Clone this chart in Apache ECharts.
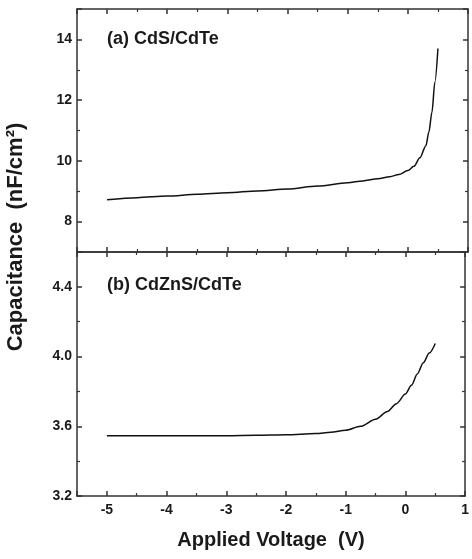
<!DOCTYPE html>
<html>
<head>
<meta charset="utf-8">
<script src="https://cdn.jsdelivr.net/npm/echarts@6/dist/echarts.min.js"></script>
<style>
  html, body { margin: 0; padding: 0; background: #fff; }
  #main { width: 472px; height: 559px; }
</style>
</head>
<body>
<div id="main"></div>
<script>
// (a) CdS/CdTe
const voltTop = [-5, -4.5, -4, -3.5, -3, -2.5, -2, -1.5, -1, -0.75, -0.5, -0.3, -0.15, 0, 0.1, 0.2, 0.3, 0.35, 0.4, 0.45, 0.5]
const capTop = [8.72, 8.79, 8.84, 8.90, 8.95, 9.01, 9.07, 9.17, 9.28, 9.34, 9.41, 9.48, 9.55, 9.68, 9.82, 10.1, 10.5, 10.95, 11.6, 12.6, 13.7]
// (b) CdZnS/CdTe
const voltBot = [-5, -4, -3, -2.5, -2, -1.5, -1.25, -1, -0.75, -0.5, -0.3, -0.15, 0, 0.1, 0.2, 0.3, 0.4, 0.5]
const capBot = [3.545, 3.545, 3.546, 3.548, 3.551, 3.558, 3.566, 3.577, 3.600, 3.640, 3.685, 3.730, 3.785, 3.835, 3.900, 3.965, 4.020, 4.075]

const panelLabels = ['(a) CdS/CdTe', '(b) CdZnS/CdTe']
const xName = 'Applied Voltage  (V)'
const yName = 'Capacitance  (nF/cm²)'

const font = '"Liberation Sans", Arial, sans-serif'
const lineCol = '#333'

const pairs = (xs, ys) => xs.map((x, i) => [x, ys[i]])

// 每个面板四条边都画刻度
const xAx = (grid, pos, showLabel) => ({
  gridIndex: grid,
  type: 'value',
  position: pos,
  min: -5.5,
  max: 1,
  axisLine: { show: true, onZero: false, lineStyle: { color: lineCol, width: 1.5 } },
  axisTick: { show: true, inside: true, length: 5, lineStyle: { color: lineCol, width: 1.5 } },
  minorTick: { show: true, splitNumber: 2, length: 3, lineStyle: { color: lineCol, width: 1.2 } },
  splitLine: { show: false },
  axisLabel: {
    show: showLabel,
    showMinLabel: false,
    margin: 7,
    color: '#1a1a1a',
    fontFamily: font,
    fontWeight: 'bold',
    fontSize: 14
  }
})

const yAx = (grid, pos, showLabel, extra) => Object.assign({
  gridIndex: grid,
  type: 'value',
  position: pos,
  axisLine: { show: true, onZero: false, lineStyle: { color: lineCol, width: 1.5 } },
  axisTick: { show: true, inside: true, length: 5, lineStyle: { color: lineCol, width: 1.5 } },
  minorTick: { show: true, splitNumber: 2, length: 3, lineStyle: { color: lineCol, width: 1.2 } },
  splitLine: { show: false },
  axisLabel: {
    show: showLabel,
    showMinLabel: extra.showMin,
    showMaxLabel: false,
    margin: 5,
    color: '#1a1a1a',
    fontFamily: font,
    fontWeight: 'bold',
    fontSize: 14,
    formatter: extra.fmt
  }
}, extra.range)

const option = {
  animation: false,
  backgroundColor: '#fff',
  title: panelLabels.map((t, i) => ({
    text: t,
    left: 107,
    top: i === 0 ? 30 : 276,
    padding: 0,
    textStyle: { fontFamily: font, fontWeight: 'bold', fontSize: 18, color: '#1a1a1a' }
  })),
  graphic: [
    {
      type: 'text',
      x: 16,
      y: 237,
      rotation: Math.PI / 2,
      style: {
        text: yName,
        align: 'center',
        verticalAlign: 'middle',
        fontFamily: font,
        fontWeight: 'bold',
        fontSize: 22,
        fill: '#1a1a1a'
      }
    }
  ],
  grid: [
    { left: 77, top: 9, width: 391, height: 243 },
    { left: 77, top: 252, width: 391, height: 244 }
  ],
  xAxis: [
    xAx(0, 'bottom', false),
    xAx(0, 'top', false),
    Object.assign(xAx(1, 'bottom', true), {
      name: xName,
      nameLocation: 'middle',
      nameGap: 34,
      nameTextStyle: { fontFamily: font, fontWeight: 'bold', fontSize: 20, color: '#1a1a1a' }
    }),
    xAx(1, 'top', false)
  ],
  yAxis: [
    yAx(0, 'left', true, { range: { min: 7, max: 15 }, showMin: false, fmt: v => String(v) }),
    yAx(0, 'right', false, { range: { min: 7, max: 15 }, showMin: false }),
    yAx(1, 'left', true, { range: { min: 3.2, max: 4.6, interval: 0.4 }, showMin: true, fmt: v => v.toFixed(1) }),
    yAx(1, 'right', false, { range: { min: 3.2, max: 4.6, interval: 0.4 }, showMin: true })
  ],
  series: [
    {
      type: 'line',
      xAxisIndex: 0,
      yAxisIndex: 0,
      data: pairs(voltTop, capTop),
      smooth: 0.3,
      smoothMonotone: 'x',
      showSymbol: false,
      lineStyle: { color: '#111', width: 1.5 }
    },
    {
      type: 'line',
      xAxisIndex: 2,
      yAxisIndex: 2,
      data: pairs(voltBot, capBot),
      smooth: 0.3,
      smoothMonotone: 'x',
      showSymbol: false,
      lineStyle: { color: '#111', width: 1.5 }
    }
  ]
}

const chart = echarts.init(document.getElementById('main'), null, { renderer: 'canvas' })
chart.setOption(option)
</script>
</body>
</html>
